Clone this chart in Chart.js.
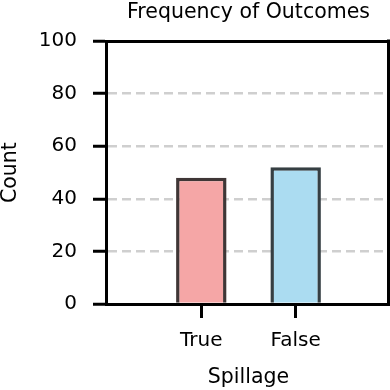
<!DOCTYPE html>
<html>
<head>
<meta charset="utf-8">
<script src="https://cdn.jsdelivr.net/npm/chart.js@4/dist/chart.umd.min.js"></script>
<style>
html,body{margin:0;padding:0;background:#fff;}
#wrap{width:390px;height:390px;}
</style>
</head>
<body>
<div id="wrap"><canvas id="c" width="390" height="390"></canvas></div>
<script>
const categories = ['True', 'False'];
const counts = [48, 52];
const yTickValues = [0, 20, 40, 60, 80, 100];
const fillColors = ['#f5a6a6', '#abdcf1'];
const edgeColors = ['#3f3636', '#363f43'];
const titleText = 'Frequency of Outcomes';
const xLabel = 'Spillage';
const yLabel = 'Count';

const FONT = "'DejaVu Sans', sans-serif";

const rightSpine = {
  id: 'rightSpine',
  afterDraw(chart) {
    const { ctx, chartArea } = chart;
    ctx.save();
    ctx.strokeStyle = '#000';
    ctx.lineWidth = 3;
    ctx.beginPath();
    ctx.moveTo(chartArea.right - 1.5, chartArea.top - 1.5);
    ctx.lineTo(chartArea.right - 1.5, chartArea.bottom + 1.5);
    ctx.stroke();
    ctx.restore();
  }
};

new Chart(document.getElementById('c'), {
  type: 'bar',
  data: {
    datasets: [{
      data: counts.map((v, i) => ({ x: i, y: v })),
      backgroundColor: fillColors,
      borderColor: edgeColors,
      borderWidth: 3.5,
      borderSkipped: 'start',
      barPercentage: 0.535,
      categoryPercentage: 1.0
    }]
  },
  plugins: [rightSpine],
  options: {
    responsive: false,
    animation: false,
    layout: { padding: { left: 0, right: 0, top: 0, bottom: 0 } },
    plugins: { legend: { display: false }, tooltip: { enabled: false }, title: { display: false } },
    scales: {
      x: {
        type: 'linear',
        position: 'bottom',
        offset: false,
        min: -1,
        max: 2,
        afterBuildTicks: s => { s.ticks = categories.map((c, i) => ({ value: i })); },
        ticks: {
          callback: v => categories[v],
          color: '#000',
          font: { family: FONT, size: 20 },
          padding: 11,
          maxRotation: 0
        },
        grid: { offset: false, drawOnChartArea: false, tickLength: 14, tickWidth: 3, tickColor: '#000', color: '#000' },
        border: { color: '#000', width: 3 },
        title: { display: true, text: xLabel, color: '#000', font: { family: FONT, size: 20.5 }, padding: { top: 1.4, bottom: 0 } }
      },
      x2: {
        type: 'linear',
        position: 'top',
        offset: false,
        min: -1,
        max: 2,
        ticks: { display: false },
        grid: { display: true, offset: false, drawOnChartArea: false, drawTicks: false },
        border: { color: '#000', width: 3 },
        title: { display: true, text: titleText, color: '#000', font: { family: FONT, size: 20.5 }, padding: { top: 0, bottom: 16.5 } }
      },
      y: {
        min: 0,
        max: 100,
        z: 1,
        afterBuildTicks: s => { s.ticks = yTickValues.map(v => ({ value: v })); },
        ticks: { color: '#000', font: { family: FONT, size: 20 }, padding: 16 },
        grid: {
          color: c => (c.tick && (c.tick.value === 0 || c.tick.value === 100)) ? 'rgba(0,0,0,0)' : 'rgba(150,150,150,0.46)',
          lineWidth: 2.5,
          tickLength: 14,
          tickWidth: 3,
          tickColor: '#000',
          tickBorderDash: []
        },
        border: { color: '#000', width: 3, dash: [9, 5] },
        title: { display: true, text: yLabel, color: '#000', font: { family: FONT, size: 20.5, lineHeight: 1.0 }, padding: { top: 0, bottom: 2.3 } }
      }
    }
  }
});
</script>
</body>
</html>
